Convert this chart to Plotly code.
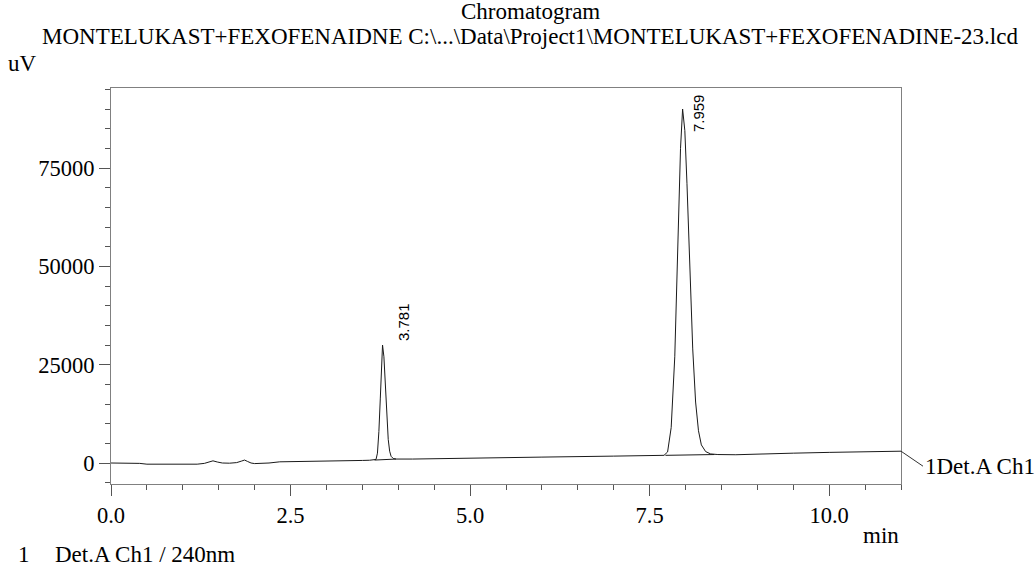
import plotly.graph_objects as go

# ---- data ----
time_min = [0.00, 0.20, 0.40, 0.50, 0.70, 1.00, 1.20, 1.30, 1.38, 1.42, 1.48, 1.55, 1.65,
            1.75, 1.82, 1.86, 1.90, 1.95, 2.00, 2.10, 2.20, 2.35, 2.60, 3.00, 3.30, 3.40,
            3.50, 3.60, 3.66, 3.69, 3.71, 3.73, 3.75, 3.77, 3.781, 3.80, 3.82, 3.84, 3.86,
            3.88, 3.90, 3.93, 3.97, 4.20, 5.00, 6.00, 7.00, 7.50, 7.70, 7.75, 7.80, 7.85,
            7.90, 7.93, 7.959, 7.99, 8.02, 8.06, 8.10, 8.14, 8.18, 8.22, 8.28, 8.35, 8.45,
            8.70, 9.00, 9.50, 10.00, 10.50, 11.00]
signal_uv = [0, 0, -100, -300, -350, -350, -300, -100, 300, 550, 250, 0, -50,
             100, 500, 750, 400, 0, -150, -100, 0, 300, 350, 450, 550, 450,
             650, 700, 750, 900, 2500, 8000, 16500, 26500, 30000, 27000, 19500, 11500, 6000,
             3000, 1700, 1150, 1000, 1000, 1300, 1500, 1750, 1850, 1950, 2800, 9000, 27000,
             58000, 80000, 90000, 84500, 71000, 49000, 29000, 15500, 8200, 4600, 2900, 2300, 2150,
             2100, 2300, 2500, 2700, 2850, 3000]

peak_rt = [3.781, 7.959]
peak_height = [30000, 90000]
peak_start = [3.67, 7.72]
peak_start_uv = [750, 1950]
peak_end = [3.97, 8.40]
peak_end_uv = [1000, 2150]

x_ticks = [0.0, 2.5, 5.0, 7.5, 10.0]
x_ticktext = ["0.0", "2.5", "5.0", "7.5", "10.0"]
y_ticks = [0, 25000, 50000, 75000]
y_ticktext = ["0", "25000", "50000", "75000"]

title1 = "Chromatogram"
title2 = "MONTELUKAST+FEXOFENAIDNE C:\\...\\Data\\Project1\\MONTELUKAST+FEXOFENADINE-23.lcd"
channel_label = "1Det.A Ch1"

SERIF = "Liberation Serif"
SANS = "Liberation Sans"
FS = 23
FT = 22.5

fig = go.Figure()
fig.add_trace(go.Scatter(x=time_min, y=signal_uv, mode="lines",
                         line=dict(color="#1a1a1a", width=1), hoverinfo="skip"))
for i in range(len(peak_rt)):
    fig.add_trace(go.Scatter(x=[peak_start[i], peak_end[i]],
                             y=[peak_start_uv[i], peak_end_uv[i]], mode="lines",
                             line=dict(color="#1a1a1a", width=1), hoverinfo="skip"))

axis_common = dict(showline=True, linecolor="#808080", linewidth=1, mirror=True,
                   showgrid=False, zeroline=False, ticks="outside", tickcolor="#555555",
                   tickfont=dict(family=SERIF, size=FT, color="black"))

fig.update_xaxes(range=[0, 11.0], tickvals=x_ticks, ticktext=x_ticktext, ticklen=11,
                 minor=dict(dtick=0.5, tick0=0, ticks="outside", ticklen=5, tickcolor="#555555"),
                 **axis_common)
fig.update_yaxes(range=[-5340, 95340], tickvals=y_ticks, ticktext=y_ticktext, ticklen=11,
                 minor=dict(dtick=5000, tick0=0, ticks="outside", ticklen=5, tickcolor="#555555"),
                 **axis_common)

ann = []
ann.append(dict(text=title1, xref="paper", yref="paper", x=0.531, y=1.192,
                xanchor="center", yanchor="middle", showarrow=False,
                font=dict(family=SERIF, size=FS, color="black")))
ann.append(dict(text=title2, xref="paper", yref="paper", x=0.53, y=1.129,
                xanchor="center", yanchor="middle", showarrow=False,
                font=dict(family=SERIF, size=FS, color="black")))
ann.append(dict(text="uV", xref="paper", yref="paper", x=-0.133, y=1.063,
                xanchor="left", yanchor="middle", showarrow=False,
                font=dict(family=SERIF, size=FS, color="black")))
ann.append(dict(text="min", xref="paper", yref="paper", x=1.0, y=-0.129,
                xanchor="right", yanchor="middle", showarrow=False,
                font=dict(family=SERIF, size=FS, color="black")))
ann.append(dict(text="1", xref="paper", yref="paper", x=-0.120, y=-0.214,
                xanchor="left", yanchor="bottom", showarrow=False,
                font=dict(family=SERIF, size=FS, color="black")))
ann.append(dict(text="Det.A Ch1 / 240nm", xref="paper", yref="paper", x=-0.073, y=-0.214,
                xanchor="left", yanchor="bottom", showarrow=False,
                font=dict(family=SERIF, size=FS, color="black")))
ann.append(dict(text=channel_label, x=time_min[-1], y=signal_uv[-1], xref="x", yref="y",
                showarrow=True, arrowhead=0, arrowwidth=1, arrowcolor="#333333",
                ax=22, ay=15, xanchor="left", yanchor="middle",
                font=dict(family=SERIF, size=FS, color="black")))
# peak labels
ann.append(dict(text=f"{peak_rt[0]:.3f}", x=peak_rt[0], y=peak_height[0], xref="x", yref="y",
                textangle=-90, showarrow=False, xanchor="left", yanchor="bottom",
                xshift=10, yshift=2, font=dict(family=SANS, size=15, color="black")))
ann.append(dict(text=f"{peak_rt[1]:.3f}", x=peak_rt[1], y=1, xref="x", yref="paper",
                textangle=-90, showarrow=False, xanchor="left", yanchor="top",
                xshift=5, yshift=-4, font=dict(family=SANS, size=15, color="black")))

fig.update_layout(width=1036, height=571, autosize=False,
                  margin=dict(l=111, r=135, t=88, b=87),
                  paper_bgcolor="white", plot_bgcolor="white",
                  showlegend=False, annotations=ann)

fig.write_html("out.html")
